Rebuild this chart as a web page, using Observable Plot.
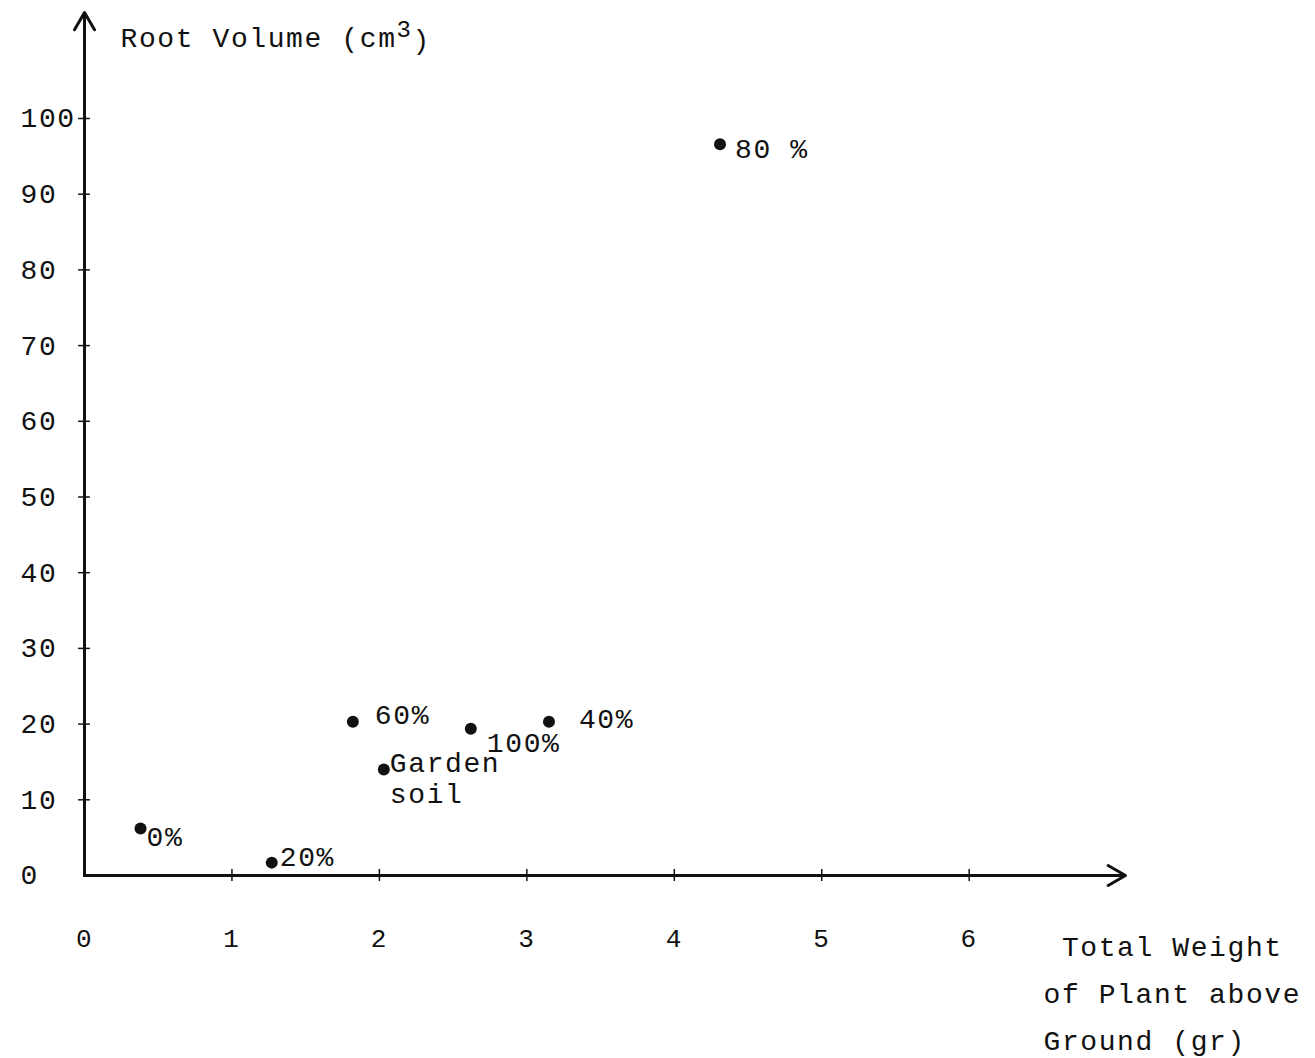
<!DOCTYPE html>
<html>
<head>
<meta charset="utf-8">
<script src="https://cdn.jsdelivr.net/npm/d3@7"></script>
<script src="https://cdn.jsdelivr.net/npm/@observablehq/plot@0.6"></script>
<style>
  html, body { margin: 0; padding: 0; background: #fff; }
  #chart svg { display: block; }
  #chart svg text { letter-spacing: 1.6px; }
</style>
</head>
<body>
<div id="chart"></div>
<script>
// ---- Data ----
const treatments = ["0%", "20%", "60%", "Garden\nsoil", "100%", "40%", "80 %"];
const plantWeight = [0.38, 1.27, 1.82, 2.03, 2.62, 3.15, 4.31];   // gr
const rootVolume  = [6.2, 1.7, 20.3, 14.0, 19.4, 20.3, 96.6];     // cm3
const xTicks = [0, 1, 2, 3, 4, 5, 6];
const yTicks = [0, 10, 20, 30, 40, 50, 60, 70, 80, 90, 100];
const yTitle = "Root Volume (cm3)";
const xTitle = " Total Weight\nof Plant above\nGround (gr)";

// label nudges (styling only)
const labelNudge = [[6, 8], [8, -6], [22, -8], [6, -19], [16, 14], [30, -4], [15, 4]];

const points = treatments.map((t, i) => ({label: t, x: plantWeight[i], y: rootVolume[i]}));

const font = "'Liberation Mono', 'DejaVu Sans Mono', monospace";

const labelMarks = points.map((p, i) =>
  Plot.text([p], {
    x: "x", y: "y", text: "label",
    textAnchor: "start",
    lineAnchor: p.label.includes("\n") ? "top" : "middle",
    lineHeight: 1.1,
    dx: labelNudge[i][0], dy: labelNudge[i][1],
    fontSize: 28, fill: "#111"
  })
);

const chart = Plot.plot({
  width: 1315,
  height: 1058,
  marginLeft: 84,
  marginRight: 190,
  marginTop: 12,
  marginBottom: 183,
  style: {fontFamily: font, background: "#fff", color: "#111"},
  x: {domain: [0, 7.06]},
  y: {domain: [0, 114]},
  marks: [
    // axes with arrows
    Plot.arrow([0], {x1: 0, y1: 0, x2: 0, y2: 114, stroke: "#111", strokeWidth: 3, headLength: 10}),
    Plot.arrow([0], {x1: 0, y1: 0, x2: 7.06, y2: 0, stroke: "#111", strokeWidth: 3, headLength: 10}),
    // crossing tick marks
    Plot.ruleX(xTicks.slice(1), {x: d => d, y1: -0.8, y2: 0.8, stroke: "#111", strokeWidth: 1.5}),
    Plot.ruleY(yTicks.slice(1), {y: d => d, x1: -0.04, x2: 0.04, stroke: "#111", strokeWidth: 1.5}),
    // tick labels
    Plot.axisX(xTicks, {tickSize: 0, tickPadding: 53, label: null, fontSize: 26, tickFormat: d => d}),
    Plot.axisY(yTicks, {tickSize: 0, tickPadding: 64, textAnchor: "start", label: null, fontSize: 28, tickFormat: d => d}),
    // titles
    Plot.text([yTitle], {frameAnchor: "top-left", dx: 36, dy: 26, textAnchor: "start", lineAnchor: "middle", fontSize: 28, className: "ytitle"}),
    Plot.text([xTitle], {frameAnchor: "bottom-right", dx: -82, dy: 47, textAnchor: "start", lineAnchor: "top", lineHeight: 1.68, fontSize: 28}),
    // points
    Plot.dot(points, {x: "x", y: "y", r: 6, fill: "#111"}),
    ...labelMarks
  ]
});

// render the superscript "3" of cm3 as a raised tspan
d3.select(chart).selectAll(".ytitle text").each(function () {
  const t = d3.select(this);
  const s = t.text();
  const i = s.lastIndexOf("3");
  t.text(null);
  t.append("tspan").text(s.slice(0, i));
  t.append("tspan").attr("dy", "-0.45em").attr("font-size", 24).text(s.slice(i, i + 1));
  t.append("tspan").attr("dy", "0.45em").text(s.slice(i + 1));
});

document.getElementById("chart").appendChild(chart);
</script>
</body>
</html>
